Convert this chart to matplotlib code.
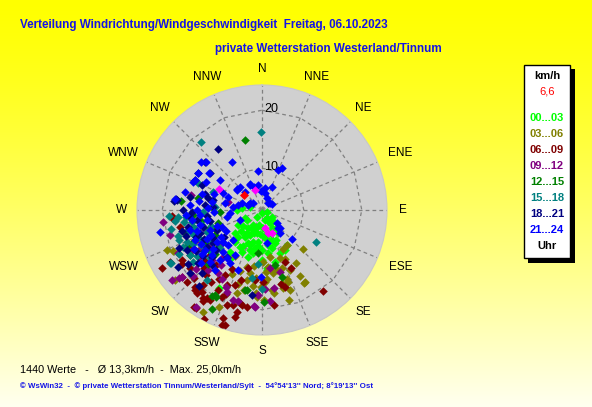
import numpy as np
import matplotlib
matplotlib.use("Agg")
import matplotlib.pyplot as plt
from matplotlib import font_manager
from matplotlib.patches import Rectangle

# ---------------- data (direction in degrees, speed in km/h) ----------------
h00_03 = [(270,7.1),(276,6.2),(284,4.9),(216,4.2),(180,3.3),(163,4.6),(211,5.8),(245,6.0),(238,7.6),
          (213,7.5),(192,6.8),(177,5.9),(151,6.3),(145,7.6),(159,8.9),(169,8.0),(187,8.3),(199,9.1),
          (205,10.8),(192,10.3),(180,9.7),(212,8.3),(220,10.0),(125,4.9),(112,3.7),(144,10.2),(150,10.7),
          (148,5.4),(180,11.4),(197,11.2),(211,10.2),(230,8.9),(236,5.9),(217,11.9),(209,18.1),(175,12.8),
          (166,12.0),(213,12.9),(157,10.8),(162,8.2),(168,6.8),(175,13.1),(200,7.0),(195,8.5),(205,7.5),
          (185,7.0),(190,9.5),(175,7.5),(170,9.0),(215,8.0),(208,9.8),(160,7.2),(155,8.5),(225,7.8),
          (218,6.8),(198,6.0),(230,7.0),(148,4.4),(135,5.5),(143,6.7),(203,9.0),(196,10.0),(186,9.0),
          (172,10.2),(222,9.0),(209,6.5),(190,5.5),(165,9.6)]
h03_06 = [(134,12.6),(144,10.2),(152,10.5),(155,12.2),(159,11.6),(170,11.0),(179,11.7),(174,12.6),(168,13.3),
          (155,14.2),(150,16.0),(150,17.4),(160,16.0),(161,17.4),(165,16.7),(173,16.7),(179,18.3),(163,19.0),
          (178,15.2),(181,16.0),(183,17.8),(147,13.7),(161,13.3),(170,13.8),(149,17.2),(160,15.5),(165,15.9),
          (176,14.8),(180,16.0),(184,17.1),(172,17.2),(192,15.1),(193,16.9),(197,17.7),(191,13.8),(247,20.5),
          (245,19.7),(231,22.0),(210,23.1),(204,21.1),(166,13.4),(195,13.0),(200,14.0),(188,12.5),(205,15.0),
          (185,14.5),(210,12.0),(187,16.0),(176,13.5),(198,16.2)]
h06_09 = [(238,19.0),(226,20.7),(221,20.5),(218,20.9),(216,20.3),(212,20.7),(210,20.7),(213,21.6),(214,23.2),
          (205,19.3),(200,20.2),(197,19.9),(192,19.5),(189,19.7),(194,20.9),(194,21.9),(200,22.6),(198,23.6),
          (208,24.0),(173,19.3),(163,16.6),(153,14.0),(156,12.6),(166,16.0),(179,15.3),(266,18.3),(264,18.2),
          (258,17.2),(240.5,21.0),(240,22.7),(225,19.5),(220,20.7),(219,19.8),(214,21.0),(209,18.5),(193,19.3),
          (215,23.3),(199,23.8),(230,20.7),(143,20.2),(220,15.2),(210,15.7),(207,14.3),(229,14.6),(197,15.4),
          (221,17.6),(194,13.1),(186,14.9),(244,16.5),(244,14.6),(236,19.5),(231,18.7),(215,18.0),(205,17.0),
          (225,17.0),(212,16.8),(200,16.5),(218,19.2),(228,16.0),(203,18.6)]
h09_12 = [(282,15.3),(263,20.0),(255,19.3),(230,20.9),(232,22.4),(283,8.8),(214,23.0),(185,19.5),(183,17.4),
          (243,19.0),(226,19.3),(184,19.5),(175,18.6),(171,16.4),(172,12.9),(195,19.1),(203,18.1),(178,16.5),
          (164,13.9),(198,19.1),(225,15.0),(235,14.0),(215,16.0),(240,17.0),(230,12.0),(220,13.5),(210,16.5),
          (245,15.5),(228,18.0),(205,17.5),(250,13.0),(231,21.3),(222,16.8),(233,16.3),(217,14.6),(238,15.2)]
h12_15 = [(346,15.2),(281,14.0),(276,16.9),(273,11.4),(254,10.7),(210,20.0),(208,19.7),(192,16.9),(185,10.2),
          (207,21.9),(209,19.5),(179,18.6),(191,16.8),(167,12.5),(163,14.8),(267,10.0),(266,14.7),(253,16.6),
          (245,16.9),(240,14.0),(250,12.5),(235,15.0),(245,16.0),(230,13.0),(255,15.0),(260,13.5),(225,16.0),
          (248,11.5),(238,17.5),(232,14.2),(242,12.0),(227,13.8)]
h15_18 = [(359,16.2),(318,18.6),(121,13.6),(263,17.9),(261,16.5),(256,15.0),(268,13.0),(240,21.0),(253,17.9),
          (245,17.8),(238,17.4),(293,14.7),(290,11.7),(265,17.4),(240,21.2),(218,18.1),(180,16.5),(256,13.4),
          (274,10.9),(252,15.5),(227,15.0),(188,14.6),(184,12.2),(245,14.5),(255,16.0),(250,18.0),(240,15.0),
          (235,16.5),(260,15.0),(230,14.0),(248,13.0),(265,16.0),(242,19.0),(252,12.0),(247,16.8),(258,18.8),
          (266,18.8),(237,13.0),(244,16.0),(233,17.8),(250,15.2),(228,12.6)]
h18_21 = [(324,15.7),(276,18.0),(283,12.3),(264,12.3),(277,17.8),(293,14.0),(255,17.1),(254,13.3),(273.5,11.2),
          (261,14.1),(246,11.2),(235,10.9),(236,14.2),(227,14.6),(217,12.9),(281.5,11.4),(275,12.6),(268,14.8),
          (277,17.5),(280,15.4),(257,15.9),(250,14.2),(236,13.0),(242,17.4),(230,17.1),(224,17.8),(220,19.8),
          (187,17.5),(236,20.3),(229,19.3),(310,15.6),(305,13.8),(300,15.5),(294,15.4),(270,16.5),(248,15.0),
          (240,12.5),(258,12.0),(232,15.8),(265,15.5),(286,13.0),(245,18.5),(238,16.2),(229,13.2),(243,14.0),
          (251,16.6),(234,18.6),(222,15.6)]
h21_24 = [(25,10.8),(22,10.2),(354,9.5),(328,12.6),(308,16.2),(311,15.5),(305,13.9),(300,15.5),(294,15.4),
          (297,13.6),(306,11.7),(294,10.2),(310,8.4),(316,8.2),(334,7.6),(341,7.0),(8,6.6),(23,7.2),(357,6.0),
          (289,6.4),(290,5.3),(59,4.8),(131,6.2),(142,7.8),(134,10.0),(171,8.5),(258,20.7),(277,17.9),(335,7.7),
          (351,7.1),(309,8.3),(282,7.0),(300,5.2),(23,5.0),(41,4.3),(138,6.9),(259,8.9),(291,9.0),(317,7.0),
          (279,11.5),(272,12.2),(281,9.3),(276,7.8),(265,8.3),(246,6.9),(274,15.2),(260,12.4),(249,12.4),
          (247,10.3),(235,12.3),(223,12.6),(225,15.4),(211,13.4),(224,9.9),(292,15.6),(246,15.4),(235,14.8),
          (218,15.9),(220,14.0),(224,11.2),(211,11.8),(202,13.9),(181,14.3),(265,13.5),(266,16.0),(254.5,15.6),
          (135,7.2),(49,4.6),(308,4.8),(10,5.8),(285,13.5),(278,13.8),(270,14.0),(262,15.0),(288,11.5),
          (283,16.5),(268,11.0),(256,13.8),(242,13.5),(230,11.5),(252,14.5),(240,10.0),(232,13.6),(228,14.5),
          (240,16.4),(237,11.2),(244,12.6),(250,11.0),(216,13.0),(229,16.8),(241,14.8),(234,15.6)]
highlight = [(296,11.0),(341,6.4),(165,6.9),(171,5.9),(156,7.1)]
current = [(310,6.9)]

groups = [h00_03, h03_06, h06_09, h09_12, h12_15, h15_18, h18_21, h21_24]
group_labels = ["00...03","03...06","06...09","09...12","12...15","15...18","18...21","21...24"]
group_colors = ["#00FF00","#808000","#800000","#800080","#008000","#008080","#000080","#0000FF"]

compass = ["N","NNE","NE","ENE","E","ESE","SE","SSE","S","SSW","SW","WSW","W","WNW","NW","NNW"]
ring_values = [10, 20]
current_value = "6,6"
stats_text = "1440 Werte   -   \u00d8 13,3km/h  -  Max. 25,0km/h"
footer_text = ("\u00a9 WsWin32  -  \u00a9 private Wetterstation Tinnum/Westerland/Sylt  -  "
               "54\u00b054'13'' Nord; 8\u00b019'13'' Ost")
title1 = "Verteilung Windrichtung/Windgeschwindigkeit  Freitag, 06.10.2023"
title2 = "private Wetterstation Westerland/Tinnum"

# ---------------- fonts ----------------
names = {f.name for f in font_manager.fontManager.ttflist}
sans = "Liberation Sans" if "Liberation Sans" in names else "DejaVu Sans"
narrow = "Liberation Sans Narrow" if "Liberation Sans Narrow" in names else sans
plt.rcParams['font.family'] = [sans, 'DejaVu Sans']
title_size = 9.6 if narrow != sans else 8.4

W, H = 592, 407
fig = plt.figure(figsize=(W/100, H/100), dpi=100)

def fx(x): return x / W
def fy(y): return 1 - y / H

# background gradient
bg = fig.add_axes([0, 0, 1, 1])
grad = np.linspace(0, 1, 256)
img = np.zeros((256, 2, 3))
img[..., 0] = 1.0
img[..., 1] = 1.0
img[..., 2] = (0.94 * grad ** 1.3)[:, None]
bg.imshow(img, aspect='auto', extent=[0, 1, 0, 1], origin='upper')
bg.set_axis_off()

# polar axes
cx, cy, R = 262, 210, 125
ax = fig.add_axes([fx(cx - R), fy(cy + R), 2 * R / W, 2 * R / H], projection='polar')
ax.set_theta_zero_location('N')
ax.set_theta_direction(-1)
RMIN, RMAX = 2.8, 24.35
ax.set_ylim(RMIN, RMAX)
ax.set_facecolor('#D0D0D0')
ax.grid(False)
ax.set_xticks([])
ax.set_yticks([])
ax.spines['polar'].set_color('#C8C8C8')
ax.spines['polar'].set_linewidth(0.8)

grid_kw = dict(color='#808080', lw=0.9, ls=(0, (3, 2.5)), zorder=1)
angles = np.deg2rad(np.arange(0, 360, 22.5))
for a in angles:
    ax.plot([a, a], [RMIN, RMAX], **grid_kw)
poly = np.deg2rad(np.arange(0, 360.1, 22.5))
for rv in ring_values:
    ax.plot(poly, [rv] * len(poly), **grid_kw)

ax.text(np.deg2rad(5), 20.3, "20", ha='center', va='center', fontsize=9, zorder=2)
ax.text(np.deg2rad(12), 10.4, "10", ha='center', va='center', fontsize=9, zorder=2)

for pts, col in zip(groups, group_colors):
    d = np.deg2rad([p[0] for p in pts])
    s = [p[1] for p in pts]
    ax.scatter(d, s, s=19, marker='D', c=col, linewidths=0, zorder=3)
ax.scatter(np.deg2rad([p[0] for p in highlight]), [p[1] for p in highlight],
           s=19, marker='D', c='#FF00FF', linewidths=0, zorder=4)
ax.scatter(np.deg2rad([p[0] for p in current]), [p[1] for p in current],
           s=21, marker='D', c='#FF0000', linewidths=0, zorder=5)

# compass labels
for i, lab in enumerate(compass):
    deg = i * 22.5
    if i % 4 == 0:
        r = 27.1
    elif i in (3, 5, 11, 13):
        r = 28.6
    else:
        r = 27.6
    ax.text(np.deg2rad(deg), r, lab, ha='center', va='center', fontsize=8.5,
            clip_on=False, zorder=6)

# titles
fig.text(fx(20), fy(25), title1, fontsize=title_size, fontweight='bold', color='#1414E6',
         family=[narrow, 'DejaVu Sans'], ha='left', va='center')
fig.text(fx(215), fy(49), title2, fontsize=title_size, fontweight='bold', color='#1414E6',
         family=[narrow, 'DejaVu Sans'], ha='left', va='center')

# bottom texts
fig.text(fx(20), fy(370), stats_text, fontsize=7.8, color='black', ha='left', va='center')
fig.text(fx(20), fy(386), footer_text, fontsize=5.7, fontweight='bold', color='#1414E6',
         ha='left', va='center')

# legend box
fig.patches.append(Rectangle((fx(528), fy(263)), (575 - 528) / W, (263 - 69) / H,
                             transform=fig.transFigure, facecolor='black', edgecolor='none', zorder=1))
fig.patches.append(Rectangle((fx(524), fy(258)), (570 - 524) / W, (258 - 65) / H,
                             transform=fig.transFigure, facecolor='white', edgecolor='black',
                             lw=1, zorder=2))
lx = 547
fig.text(fx(lx), fy(76), "km/h", fontsize=8, fontweight='bold', ha='center', va='center', zorder=3)
fig.text(fx(lx), fy(92), current_value, fontsize=8, color='#FF0000', ha='center', va='center', zorder=3)
for k, (lab, col) in enumerate(zip(group_labels, group_colors)):
    fig.text(fx(lx), fy(118 + 16 * k), lab, fontsize=8, fontweight='bold', color=col,
             ha='center', va='center', zorder=3)
fig.text(fx(lx), fy(246), "Uhr", fontsize=8, fontweight='bold', ha='center', va='center', zorder=3)

fig.savefig("out.png", dpi=100)
